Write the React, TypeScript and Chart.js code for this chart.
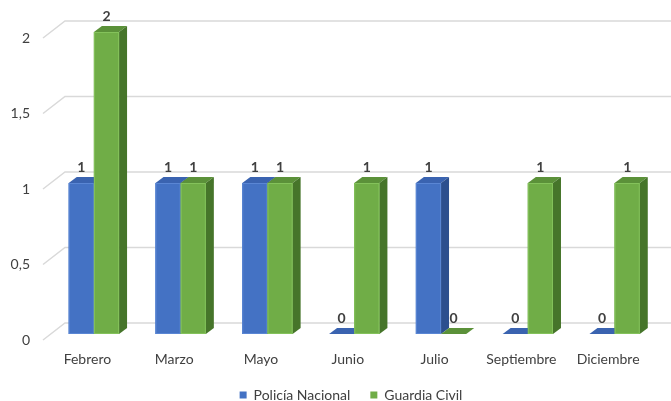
import React, { useEffect, useRef } from 'react';
import { Chart, registerables } from 'chart.js';

Chart.register(...registerables);

const categories = ['Febrero', 'Marzo', 'Mayo', 'Junio', 'Julio', 'Septiembre', 'Diciembre'];
const policiaNacional = [1, 1, 1, 0, 1, 0, 0];
const guardiaCivil = [2, 1, 1, 1, 0, 1, 1];
const seriesNames = ['Policía Nacional', 'Guardia Civil'];
const yTickValues = [0, 0.5, 1, 1.5, 2];

const FRONT = ['#4472C4', '#70AD47'];
const TOP = ['#3A63B0', '#5B9139'];
const SIDE = ['#2C4F8E', '#46752A'];
const EDGE = ['#5A86D4', '#84C25B'];

const DEPTH_X = 8;
const DEPTH_Y = 6;
const WALL_FRONT_X = 43;
const WALL_BACK_X = 65;
const WALL_FRONT_DY = 6;
const WALL_BACK_DY = -11;
const LEGEND_SHIFT = 22;
const FONT = 'Lato, "Open Sans", sans-serif';

const wallPlugin = {
  id: 'wall3d',
  afterLayout(chart: any) {
    if (chart.legend) {
      chart.legend.left += LEGEND_SHIFT;
      chart.legend.right += LEGEND_SHIFT;
    }
  },
  beforeDatasetsDraw(chart: any) {
    const ctx = chart.ctx;
    const ys = chart.scales.y;
    ctx.save();
    ctx.strokeStyle = '#d9d9d9';
    ctx.lineWidth = 1.5;
    yTickValues.forEach((v) => {
      const yb = ys.getPixelForValue(v);
      ctx.beginPath();
      ctx.moveTo(WALL_FRONT_X, yb + WALL_FRONT_DY);
      ctx.lineTo(WALL_BACK_X, yb + WALL_BACK_DY);
      ctx.lineTo(chart.width, yb + WALL_BACK_DY);
      ctx.stroke();
    });
    ctx.restore();
  },
};

const barsPlugin = {
  id: 'bars3d',
  afterDatasetsDraw(chart: any) {
    const ctx = chart.ctx;
    const n = chart.data.labels.length;
    const labels: any[] = [];
    ctx.save();
    for (let i = 0; i < n; i++) {
      chart.data.datasets.forEach((ds: any, d: number) => {
        const meta = chart.getDatasetMeta(d);
        const el = meta.data[i];
        if (!el) return;
        const { x, y, base, width } = el.getProps(['x', 'y', 'base', 'width'], true);
        const x0 = x - width / 2;
        const x1 = x + width / 2;
        ctx.fillStyle = FRONT[d];
        ctx.fillRect(x0, y, width, base - y);
        ctx.fillStyle = TOP[d];
        ctx.beginPath();
        ctx.moveTo(x0, y);
        ctx.lineTo(x1, y);
        ctx.lineTo(x1 + DEPTH_X, y - DEPTH_Y);
        ctx.lineTo(x0 + DEPTH_X, y - DEPTH_Y);
        ctx.closePath();
        ctx.fill();
        ctx.fillStyle = SIDE[d];
        ctx.beginPath();
        ctx.moveTo(x1, y);
        ctx.lineTo(x1 + DEPTH_X, y - DEPTH_Y);
        ctx.lineTo(x1 + DEPTH_X, base - DEPTH_Y);
        ctx.lineTo(x1, base);
        ctx.closePath();
        ctx.fill();
        if (base - y > 1) {
          ctx.strokeStyle = EDGE[d];
          ctx.lineWidth = 1;
          ctx.strokeRect(x0 + 0.5, y + 0.5, width - 1, base - y - 1);
        }
        labels.push({ x, y, v: ds.data[i] });
      });
    }
    ctx.fillStyle = '#404040';
    ctx.font = 'bold 14px ' + FONT;
    ctx.textAlign = 'center';
    ctx.textBaseline = 'middle';
    labels.forEach((l) => ctx.fillText(String(l.v), l.x, l.y - 16));
    ctx.restore();
  },
};

export default function App() {
  const ref = useRef<HTMLCanvasElement>(null);
  useEffect(() => {
    const chart = new Chart(ref.current as HTMLCanvasElement, {
      type: 'bar',
      data: {
        labels: categories,
        datasets: [
          { label: seriesNames[0], data: policiaNacional, backgroundColor: FRONT[0], borderWidth: 0 },
          { label: seriesNames[1], data: guardiaCivil, backgroundColor: FRONT[1], borderWidth: 0 },
        ],
      },
      options: {
        responsive: false,
        animation: false,
        events: [],
        layout: { padding: { top: 32, right: 13, left: 0, bottom: 0 } },
        datasets: { bar: { barPercentage: 1, categoryPercentage: 0.58 } },
        font: { family: FONT },
        scales: {
          x: {
            grid: { display: false, drawTicks: false },
            border: { display: false },
            afterFit: (s: any) => { s.height = 34; },
            ticks: { color: '#404040', font: { family: FONT, size: 14 }, padding: 17, labelOffset: -6.5, maxRotation: 0, autoSkip: false },
          },
          y: {
            min: 0,
            max: 2,
            grid: { display: false, drawTicks: false },
            border: { display: false },
            afterFit: (s: any) => { s.width = 50.5; },
            ticks: {
              stepSize: 0.5,
              color: '#404040',
              font: { family: FONT, size: 14 },
              padding: 20.5,
              labelOffset: 6,
              callback: (v: any) => String(v).replace('.', ','),
            },
          },
        },
        plugins: {
          legend: {
            position: 'bottom',
            labels: { boxWidth: 7, boxHeight: 7, padding: 20, color: '#404040', font: { family: FONT, size: 14 } },
          },
          tooltip: { enabled: false },
        },
      },
      plugins: [wallPlugin, barsPlugin],
    } as any);
    return () => chart.destroy();
  }, []);
  return (
    <div style={{ position: 'fixed', left: 0, top: 0, width: 671, height: 401, overflow: 'hidden', background: '#fff' }}>
      <canvas ref={ref} width={671} height={412} style={{ display: 'block' }} />
    </div>
  );
}
